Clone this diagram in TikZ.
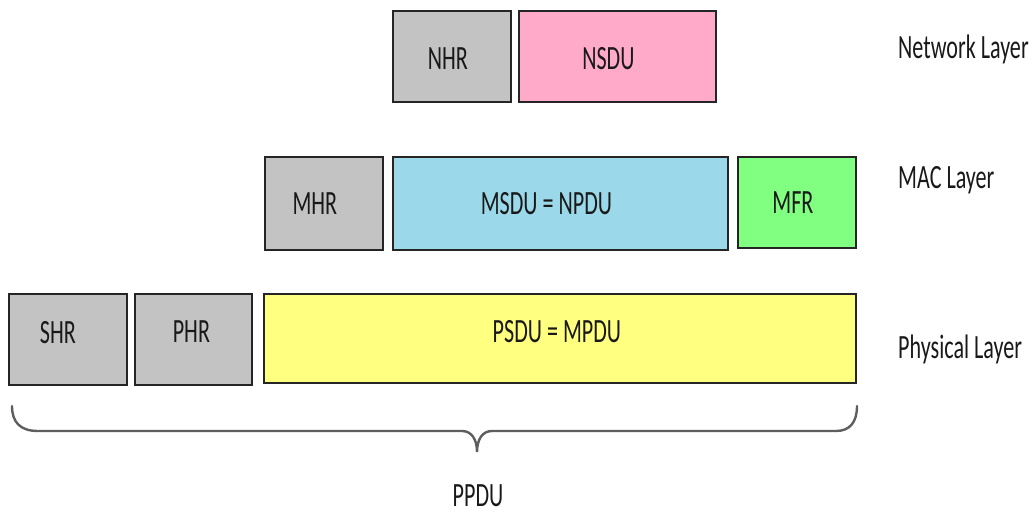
\documentclass[tikz,border=0pt]{standalone}
\usepackage{fontspec}
\newfontfamily\calfont[FakeStretch=0.65]{Carlito}
\definecolor{hdrgray}{HTML}{C3C3C3}
\definecolor{nsdupink}{HTML}{FFAAC8}
\definecolor{msdublue}{HTML}{9BD9EA}
\definecolor{mfrgreen}{HTML}{80FF80}
\definecolor{psduyellow}{HTML}{FFFF80}
\definecolor{bordergray}{HTML}{252525}
\definecolor{bracegray}{HTML}{5E5E5E}
\begin{document}
\begin{tikzpicture}[x=1pt,y=-1pt,
  box/.style={draw=bordergray, line width=1.8pt, inner sep=0pt, anchor=north west},
  txt/.style={font=\calfont\fontsize{34}{38}\selectfont, text=black!90},
  lay/.style={anchor=base west, inner sep=0pt, txt},
  bracepath/.style={draw=bracegray, line width=2.4pt, line cap=round}]
\useasboundingbox (0,0) rectangle (1032,513);
% Network layer
\node[box, fill=hdrgray, minimum width=118pt, minimum height=91pt,
  label={[xshift=-4pt,yshift=-2.5pt,txt]center:NHR}] (nhr) at (392,10) {};
\node[box, fill=nsdupink, minimum width=197pt, minimum height=91pt,
  label={[xshift=-9pt,yshift=-2pt,txt]center:NSDU}] (nsdu) at (518,10) {};
% MAC layer
\node[box, fill=hdrgray, minimum width=118pt, minimum height=93pt,
  label={[xshift=-9pt,yshift=0pt,txt]center:MHR}] (mhr) at (264,156) {};
\node[box, fill=msdublue, minimum width=335pt, minimum height=93pt,
  label={[xshift=-14pt,yshift=0pt,txt]center:MSDU = NPDU}] (msdu) at (392,156) {};
\node[box, fill=mfrgreen, minimum width=118pt, minimum height=91pt,
  label={[xshift=-4pt,yshift=-0.5pt,txt]center:MFR}] (mfr) at (737,156) {};
% Physical layer
\node[box, fill=hdrgray, minimum width=118pt, minimum height=91pt,
  label={[xshift=-10pt,yshift=6.5pt,txt]center:SHR}] (shr) at (8,293) {};
\node[box, fill=hdrgray, minimum width=117pt, minimum height=91pt,
  label={[xshift=-2pt,yshift=7.5pt,txt]center:PHR}] (phr) at (134,293) {};
\node[box, fill=psduyellow, minimum width=592pt, minimum height=89pt,
  label={[xshift=-3pt,yshift=6.5pt,txt]center:PSDU = MPDU}] (psdu) at (263,293) {};
% Layer names
\node[lay] (netl) at (898,59) {Network Layer};
\node[lay] (macl) at (898,188) {MAC Layer};
\node[lay] (phyl) at (898,358) {Physical Layer};
% Brace
\coordinate (bl) at (12,406);
\coordinate (br) at (857,406);
\coordinate (tip) at (477,452);
\draw[bracepath] (bl) .. controls (12,422) and (20,431) .. (38,431)
  -- (462,431) .. controls (472,431) and (477,440) .. (tip)
  .. controls (477,440) and (482,431) .. (492,431)
  -- (836,431) .. controls (850,431) and (857,422) .. (br);
\node[anchor=base, inner sep=0pt, txt] (ppdu) at (478,506) {PPDU};
\end{tikzpicture}
\end{document}
